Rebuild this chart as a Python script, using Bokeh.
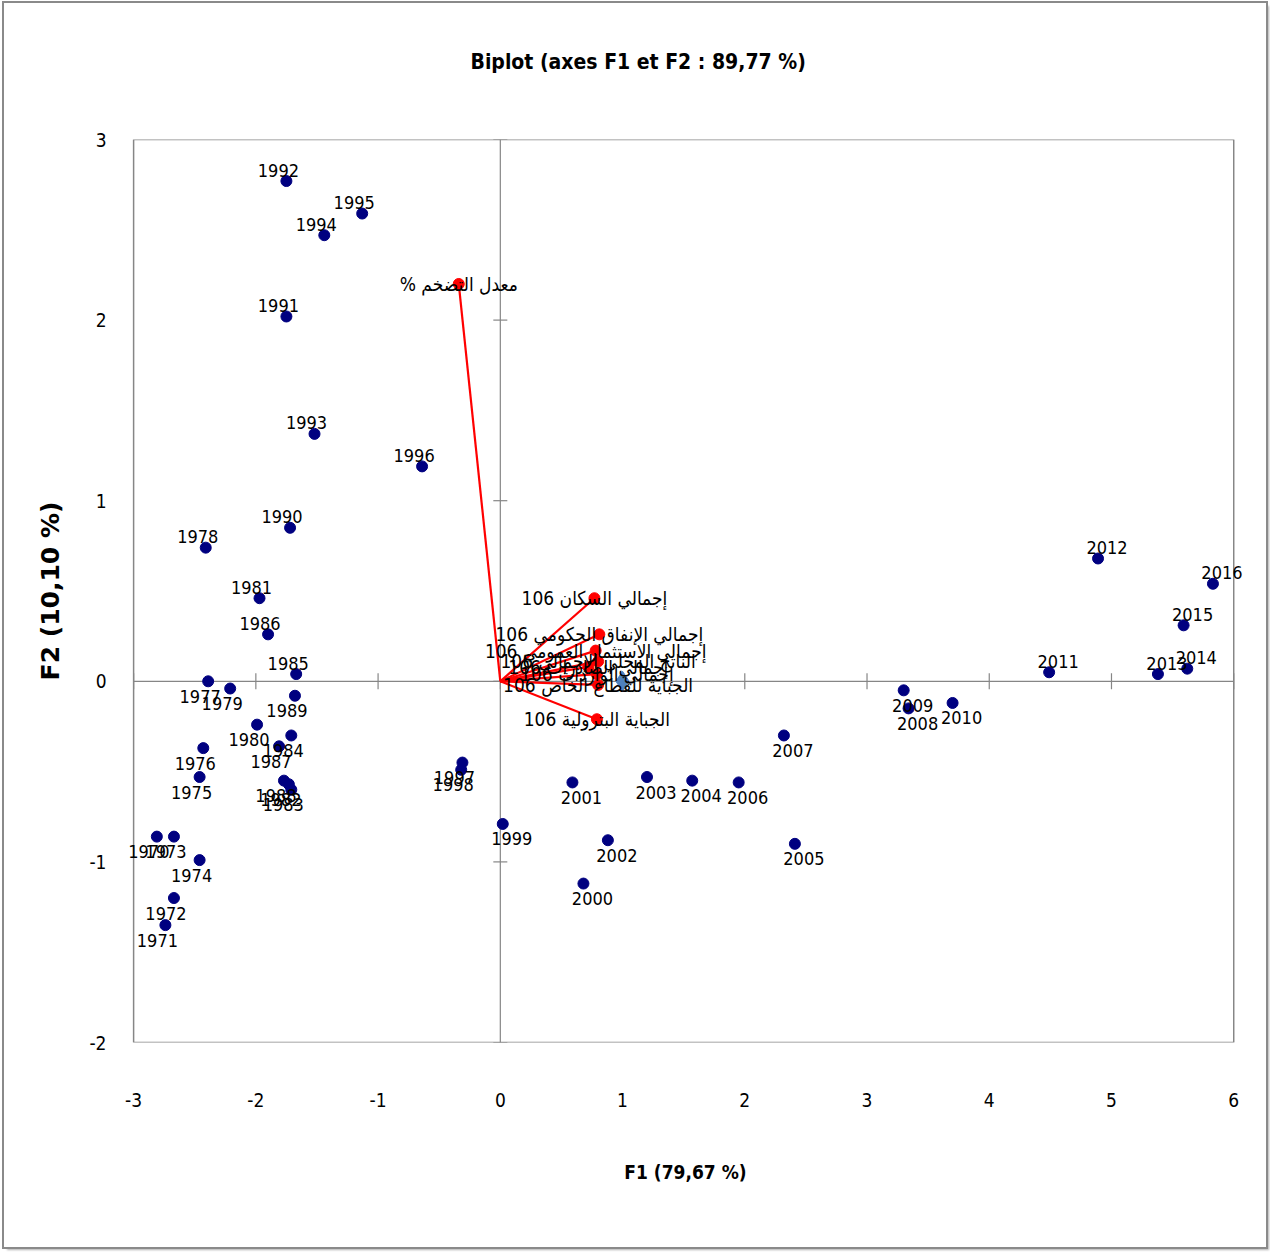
import numpy as np
from bokeh.plotting import figure
from bokeh.models import Range1d, FixedTicker, ColumnDataSource, LabelSet, Label, PrintfTickFormatter, Title
from bokeh.core.properties import value
from bokeh.embed import file_html
from bokeh.resources import INLINE

# ---- observations (years) : F1 / F2 coordinates ----
years = [str(y) for y in range(1970, 2017)]
obs_f1 = [-2.81, -2.74, -2.67, -2.67, -2.46, -2.46, -2.43, -2.39, -2.41, -2.21,
          -1.99, -1.97, -1.73, -1.71, -1.71, -1.67, -1.90, -1.81, -1.77, -1.68,
          -1.72, -1.75, -1.75, -1.52, -1.44, -1.13, -0.64, -0.31, -0.32, 0.02,
          0.68, 0.59, 0.88, 1.20, 1.57, 2.41, 1.95, 2.32, 3.34, 3.30,
          3.70, 4.49, 4.89, 5.38, 5.62, 5.59, 5.83]
obs_f2 = [-0.86, -1.35, -1.20, -0.86, -0.99, -0.53, -0.37, 0.00, 0.74, -0.04,
          -0.24, 0.46, -0.57, -0.60, -0.30, 0.04, 0.26, -0.36, -0.55, -0.08,
          0.85, 2.02, 2.77, 1.37, 2.47, 2.59, 1.19, -0.45, -0.49, -0.79,
          -1.12, -0.56, -0.88, -0.53, -0.55, -0.90, -0.56, -0.30, -0.15, -0.05,
          -0.12, 0.05, 0.68, 0.04, 0.07, 0.31, 0.54]

# ---- variables (red vectors) ----
var_names = ["معدل التضخم %\u200f",
             "إجمالي السكان 106",
             "إجمالي الإنفاق الحكومي 106",
             "إجمالي الاستثمار العمومي 106",
             "الناتج المحلي الإجمالي 106",
             "إجمالي الصادرات 106",
             "إجمالي الواردات 106",
             "الجباية للقطاع الخاص 106",
             "الجباية البترولية 106"]
var_f1 = [-0.34, 0.77, 0.81, 0.78, 0.80, 0.72, 0.79, 0.80, 0.79]
var_f2 = [2.20, 0.46, 0.26, 0.17, 0.11, 0.08, 0.04, -0.02, -0.21]

# supplementary point (blue diamond)
sup_f1 = [1.00]
sup_f2 = [0.00]

x_ticks = list(range(-3, 7))
y_ticks = list(range(-2, 4))

NARROW = "DejaVu Sans Condensed"
GRAY = "#868686"

# x range slightly wider than the drawn box so edge labels are not clipped
p = figure(width=1262, height=1244,
           x_range=Range1d(x_ticks[0] - 0.05, x_ticks[-1] + 0.08),
           y_range=Range1d(y_ticks[0], y_ticks[-1]),
           output_backend="svg", toolbar_location=None,
           min_border_left=123, min_border_right=23, min_border_top=136,
           min_border_bottom=205)
p.styles = {"margin-left": "4px", "margin-top": "3px",
            "outline": "2px solid #8a8a8a",
            "box-shadow": "3px 3px 2px #b0b0b0"}

p.grid.visible = False
p.outline_line_color = None
p.background_fill_color = "white"
p.border_fill_color = "white"

# spacer between title and plot box
p.add_layout(Title(text=" ", text_font_size="8px", standoff=50), "above")

# title
p.title.text = "Biplot (axes F1 et F2 : 89,77 %)"
p.title.align = "left"
p.title.offset = 343
p.title.text_font = NARROW
p.title.text_font_style = "bold"
p.title.text_font_size = "21px"
p.title.text_color = "black"
p.title.standoff = 10

for ax in (p.xaxis, p.yaxis):
    ax.axis_line_color = None
    ax.major_tick_line_color = None
    ax.minor_tick_line_color = None
    ax.major_tick_out = 0
    ax.major_tick_in = 0
    ax.minor_tick_out = 0
    ax.major_label_text_font = NARROW
    ax.major_label_text_font_size = "19px"
    ax.major_label_text_color = "black"
    ax.formatter = PrintfTickFormatter(format="%d")

p.xaxis.ticker = FixedTicker(ticks=x_ticks)
p.yaxis.ticker = FixedTicker(ticks=y_ticks)
p.xaxis.major_label_standoff = 50
p.yaxis.major_label_standoff = 21

p.xaxis.axis_label = "F1 (79,67 %)"
p.xaxis.axis_label_text_font = NARROW
p.xaxis.axis_label_text_font_style = "bold"
p.xaxis.axis_label_text_font_size = "19px"
p.xaxis.axis_label_text_color = "black"
p.xaxis.axis_label_standoff = 51

p.yaxis.axis_label = "F2 (10,10 %)"
p.yaxis.axis_label_text_font = "DejaVu Sans"
p.yaxis.axis_label_text_font_style = "bold"
p.yaxis.axis_label_text_font_size = "25px"
p.yaxis.axis_label_text_color = "black"
p.yaxis.axis_label_standoff = 21

# plot box
p.quad(left=[x_ticks[0]], right=[x_ticks[-1]], bottom=[y_ticks[0]], top=[y_ticks[-1]],
       fill_color=None, line_color=GRAY, line_width=1.5)

# zero axes with tick marks
p.segment(x0=[x_ticks[0], 0], y0=[0, y_ticks[0]], x1=[x_ticks[-1], 0], y1=[0, y_ticks[-1]],
          line_color=GRAY, line_width=1.2)
p.scatter(x=x_ticks, y=[0] * len(x_ticks), marker="dash", size=16, angle=np.pi / 2,
          line_color=GRAY, line_width=1.2)
p.scatter(x=[0] * len(y_ticks), y=y_ticks, marker="dash", size=14,
          line_color=GRAY, line_width=1.2)

# observations
p.scatter(obs_f1, obs_f2, marker="circle", size=11, fill_color="#000080",
          line_color="#000080")

# variable vectors
p.segment(x0=[0] * len(var_f1), y0=[0] * len(var_f1), x1=var_f1, y1=var_f2,
          line_color="#ff0000", line_width=2.2)
p.scatter(var_f1, var_f2, marker="circle", size=11, fill_color="#ff0000",
          line_color="#ff0000")

# supplementary point
p.scatter(sup_f1, sup_f2, marker="diamond", size=20, fill_color="#4F81BD",
          line_color="#4F81BD")

# labels for observations
for yr, a, b in zip(years, obs_f1, obs_f2):
    is_above = b > 0.02
    p.add_layout(Label(x=a, y=b, text=yr,
                       x_offset=-8 if a < 0 else 9,
                       y_offset=11 if is_above else -15,
                       text_align="center", text_baseline="middle",
                       text_font=NARROW, text_font_size="18px",
                       text_color="black"))

# labels for variables
var_src = ColumnDataSource(dict(x=var_f1, y=var_f2, t=var_names))
p.add_layout(LabelSet(x="x", y="y", text="t", source=var_src,
                      text_align="center", text_baseline="middle",
                      text_font=value(NARROW), text_font_size="19px",
                      text_color="black"))

open("out.html", "w").write(file_html(p, INLINE))
